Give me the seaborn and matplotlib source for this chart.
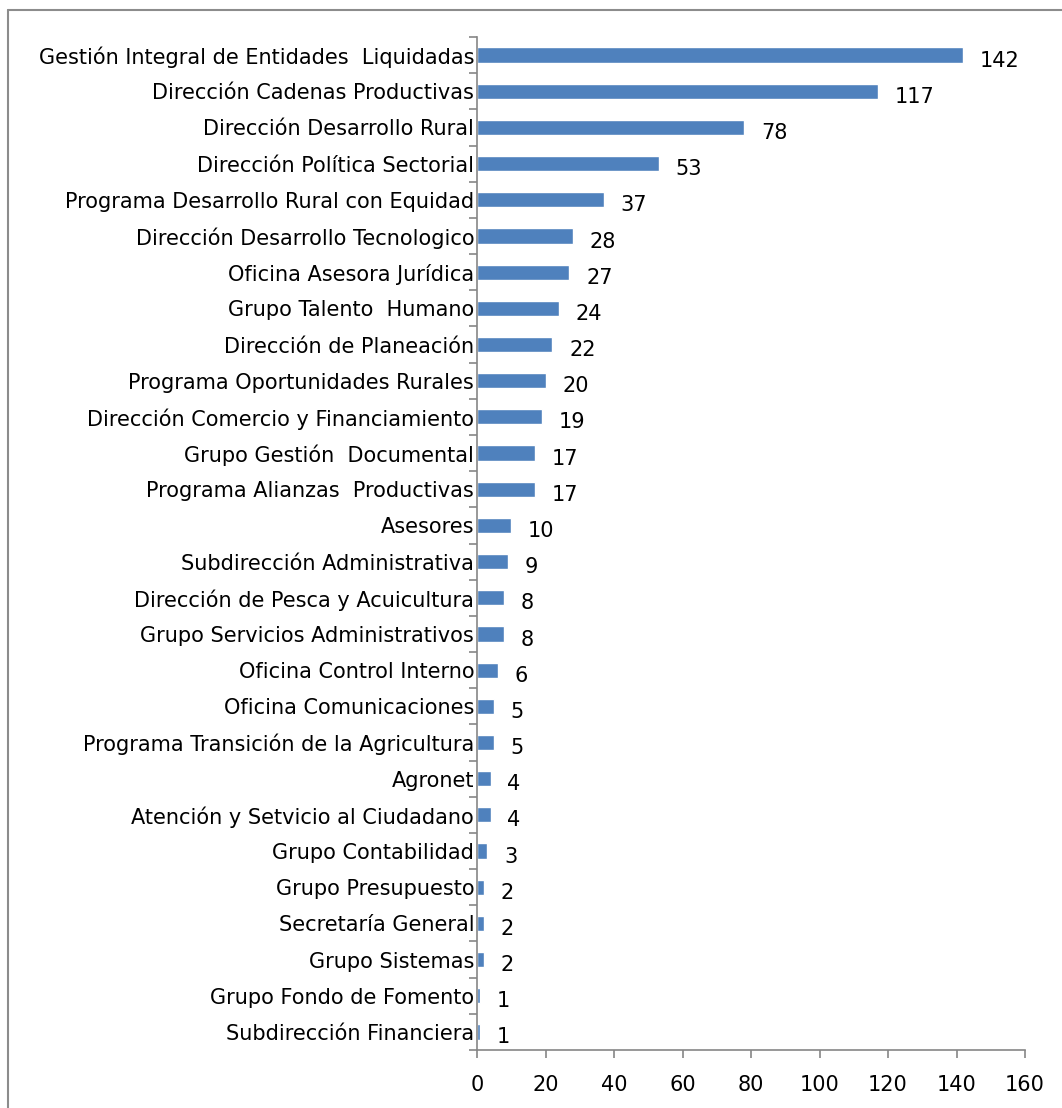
import matplotlib
matplotlib.use("Agg")
import matplotlib.pyplot as plt
import seaborn as sns
import pandas as pd
from matplotlib.lines import Line2D

areas = [
    "Gestión Integral de Entidades  Liquidadas",
    "Dirección Cadenas Productivas",
    "Dirección Desarrollo Rural",
    "Dirección Política Sectorial",
    "Programa Desarrollo Rural con Equidad",
    "Dirección Desarrollo Tecnologico",
    "Oficina Asesora Jurídica",
    "Grupo Talento  Humano",
    "Dirección de Planeación",
    "Programa Oportunidades Rurales",
    "Dirección Comercio y Financiamiento",
    "Grupo Gestión  Documental",
    "Programa Alianzas  Productivas",
    "Asesores",
    "Subdirección Administrativa",
    "Dirección de Pesca y Acuicultura",
    "Grupo Servicios Administrativos",
    "Oficina Control Interno",
    "Oficina Comunicaciones",
    "Programa Transición de la Agricultura",
    "Agronet",
    "Atención y Setvicio al Ciudadano",
    "Grupo Contabilidad",
    "Grupo Presupuesto",
    "Secretaría General",
    "Grupo Sistemas",
    "Grupo Fondo de Fomento",
    "Subdirección Financiera",
]
counts = [142, 117, 78, 53, 37, 28, 27, 24, 22, 20, 19, 17, 17, 10, 9, 8, 8, 6, 5, 5, 4, 4, 3, 2, 2, 2, 1, 1]
x_ticks = [0, 20, 40, 60, 80, 100, 120, 140, 160]

df = pd.DataFrame({"area": areas, "n": counts})

sns.set_style("white")
plt.rcParams["font.family"] = ["DejaVu Sans"]
fs = 15

W, H = 1062, 1108
fig = plt.figure(figsize=(W / 100, H / 100), dpi=100)
ax = fig.add_axes([477 / W, 58 / H, 548 / W, 1013 / H])

sns.barplot(data=df, x="n", y="area", color="#4F81BD", width=0.42,
            saturation=1, ax=ax, orient="h")

grey = "#868686"
ax.set_xlim(0, 160)
ax.set_ylim(len(areas) - 0.5, -0.5)
ax.set_xticks(x_ticks)
ax.set_xlabel("")
ax.set_ylabel("")
for s in ["top", "right"]:
    ax.spines[s].set_visible(False)
for s in ["left", "bottom"]:
    ax.spines[s].set_color(grey)
    ax.spines[s].set_linewidth(1.2)

ax.tick_params(axis="x", direction="out", length=6, width=1.2, color=grey,
               labelsize=fs, pad=12, bottom=True)
ax.tick_params(axis="y", which="major", length=0, labelsize=fs, pad=2)
ax.set_yticks([i - 0.5 for i in range(len(areas) + 1)], minor=True)
ax.tick_params(axis="y", which="minor", direction="out", length=6, width=1.2,
               color=grey, left=True)
for lab in ax.get_xticklabels() + ax.get_yticklabels():
    lab.set_color("black")

for i, v in enumerate(counts):
    ax.annotate(str(v), (v, i), xytext=(12, -4), textcoords="offset points",
                va="center", ha="left", fontsize=fs, color="black")

# outer chart frame (left and top edges visible)
fig.add_artist(Line2D([8 / W, 8 / W], [0, 1 - 10 / H], color="#8c8c8c", lw=1.5))
fig.add_artist(Line2D([8 / W, 1], [1 - 10 / H, 1 - 10 / H], color="#8c8c8c", lw=1.5))

fig.savefig("out.png", dpi=100)
